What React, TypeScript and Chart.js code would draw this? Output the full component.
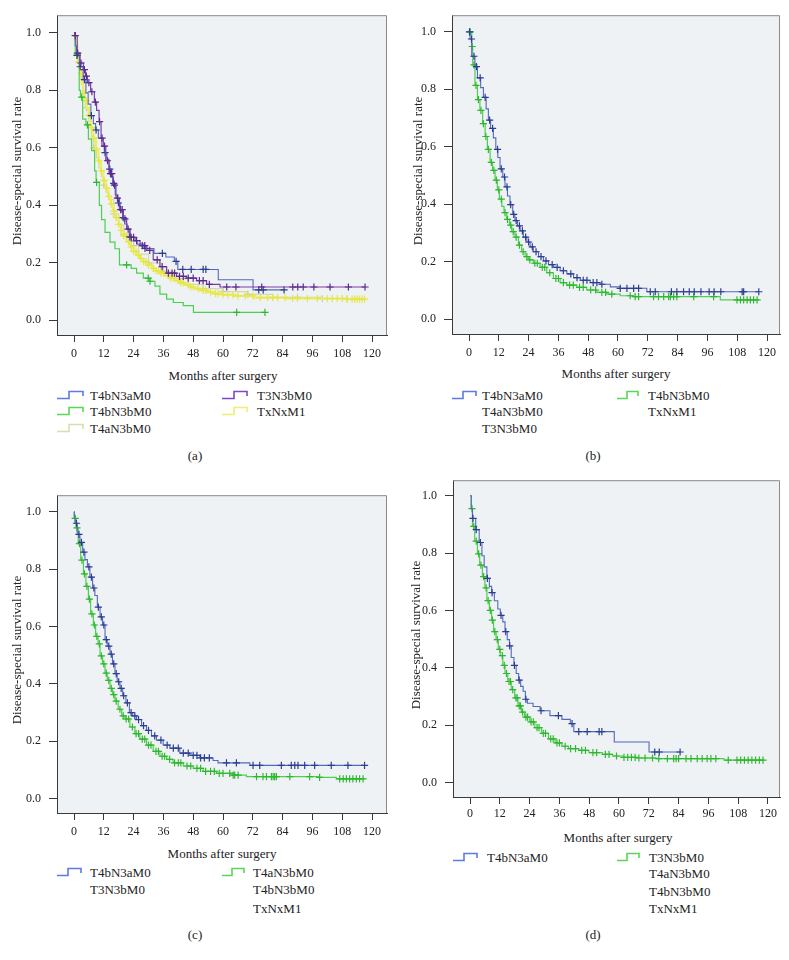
import React, { useEffect, useRef } from "react";
import { Chart, registerables } from "chart.js";
Chart.register(...registerables);

type Pt = [number, number];

const FONT = "'Liberation Serif', 'Times New Roman', serif";
const X_TICKS = [0, 12, 24, 36, 48, 60, 72, 84, 96, 108, 120];
const Y_TICKS = [0, 0.2, 0.4, 0.6, 0.8, 1.0];
const X_TITLE = "Months after surgery";
const Y_TITLE = "Disease-special survival rate";

// ---- single groups (panel a; T4bN3aM0 also panel d) ----
const T4bN3aM0_CURVE: Pt[] = [[0,1],[0.5,0.955],[1.0,0.921],[2.3,0.882],[3.7,0.837],[4.8,0.791],[5.7,0.752],[6.8,0.712],[7.8,0.684],[8.7,0.662],[9.8,0.634],[11.2,0.605],[12.2,0.583],[13.2,0.56],[14.1,0.526],[15.0,0.498],[15.9,0.476],[16.6,0.436],[17.7,0.408],[18.6,0.38],[19.6,0.357],[20.4,0.335],[21.4,0.318],[22.3,0.29],[23.1,0.276],[25.4,0.265],[28.2,0.25],[32.2,0.233],[37.0,0.22],[40.4,0.205],[41.8,0.177],[58.1,0.141],[72.1,0.106],[84.6,0.106]];
const T4bN3aM0_CENSOR = [1.2,2.5,4.2,7.0,8.9,12.5,14.4,16.0,17.9,19.8,22.5,28.6,35.6,41.1,43.8,47.2,52.0,53.1,74.4,76.2,84.6];

const T3N3bM0_CURVE: Pt[] = [[0,1],[0.4,0.99],[1.3,0.929],[2.4,0.895],[3.8,0.872],[4.6,0.849],[5.4,0.827],[6.7,0.795],[8.2,0.759],[9.1,0.73],[10.1,0.691],[10.9,0.634],[11.8,0.606],[12.8,0.555],[14.1,0.51],[15.6,0.47],[16.9,0.425],[18.3,0.385],[19.9,0.353],[21.2,0.317],[22.6,0.289],[24.6,0.277],[26.6,0.26],[29.3,0.243],[31.9,0.21],[34.6,0.187],[37.3,0.164],[41.3,0.153],[45.4,0.147],[49.4,0.138],[53.4,0.125],[58.8,0.116],[117.2,0.116]];
const T3N3bM0_CENSOR = [0.5,1.5,2.8,4.2,5.0,6.0,7.2,8.6,10.3,11.3,12.3,13.5,14.7,15.2,16.3,17.5,18.8,19.4,20.5,21.8,23.0,24.0,25.2,27.5,28.5,30.5,33.5,35.5,38.0,39.5,40.5,42.5,44.0,46.0,48.0,50.5,52.0,54.5,61.5,65.2,75.6,88.1,90.1,92.3,96.6,103.1,110.5,117.2];

const T4bN3bM0_CURVE: Pt[] = [[0,1],[0.5,0.923],[2.1,0.8],[2.6,0.776],[3.5,0.7],[4.8,0.68],[5.8,0.63],[7.1,0.59],[8.3,0.52],[8.9,0.48],[10.2,0.4],[11.1,0.35],[12.5,0.306],[14.5,0.272],[16.5,0.249],[18.3,0.193],[23.0,0.181],[25.2,0.164],[27.9,0.147],[30.6,0.136],[32.6,0.119],[34.6,0.091],[37.3,0.074],[40.0,0.062],[44.0,0.051],[48.1,0.028],[76.9,0.028]];
const T4bN3bM0_CENSOR = [1.3,3.1,5.4,9.1,21.2,29.9,30.6,65.5,76.9];

const TxNxM1_CURVE: Pt[] = [[0,1],[0.3,0.974],[1.0,0.93],[1.7,0.895],[2.4,0.86],[3.1,0.821],[3.7,0.79],[4.4,0.764],[5.1,0.74],[5.8,0.713],[6.8,0.67],[7.8,0.634],[8.8,0.595],[9.8,0.555],[10.8,0.52],[11.8,0.487],[12.8,0.46],[13.8,0.431],[14.8,0.405],[15.8,0.38],[16.8,0.357],[17.9,0.334],[18.9,0.313],[19.9,0.294],[21.2,0.274],[22.6,0.255],[23.9,0.24],[25.2,0.226],[26.5,0.215],[27.9,0.204],[29.6,0.192],[31.3,0.181],[33.0,0.172],[34.6,0.164],[36.6,0.155],[38.7,0.147],[40.7,0.138],[42.7,0.13],[44.7,0.123],[46.7,0.116],[48.7,0.11],[50.7,0.104],[53.4,0.098],[56.1,0.093],[60.0,0.089],[64.2,0.085],[72.2,0.079],[85.6,0.076],[109.8,0.074],[117.2,0.074]];
const TxNxM1_CENSOR = [1,2,3,4,5,6,7,8,9,10,11,12,13,14,15,16,17,18,19,20,21,22,23,24,25,26,27,28,29,30,32,33,34,35,36,38,39,40,42,43,44,46,47,48,50,52,53,55,57,58,60,62,64,66,69,72,75,78,80,82,85,88,90,94,98,102,104,106,108,110,112,113,114,115,116,117];

const T4aN3bM0_CURVE: Pt[] = [[0,1],[0.5,0.96],[1.5,0.9],[2.5,0.84],[3.5,0.79],[4.5,0.74],[6.0,0.68],[7.0,0.64],[8.0,0.6],[9.0,0.565],[10.0,0.53],[11.0,0.5],[12.0,0.47],[13.0,0.445],[14.0,0.42],[16.0,0.37],[18.0,0.33],[20.0,0.3],[23.0,0.26],[26.0,0.23],[30.0,0.2],[35.0,0.17],[40.0,0.145],[46.0,0.125],[52.0,0.11],[60.0,0.1],[70.0,0.09],[80.0,0.08],[100.0,0.075],[117.0,0.075]];
const T4aN3bM0_CENSOR = [2,5,8,12,16,20,24,30,36,44,52,60,70,80,90,100,110];

// ---- panel (b) combined groups ----
const B_BLUE_CURVE: Pt[] = [[0,1],[0.4,0.975],[1.1,0.915],[2.4,0.879],[3.4,0.84],[4.7,0.806],[5.8,0.772],[6.9,0.732],[7.8,0.693],[8.7,0.664],[9.8,0.631],[10.8,0.591],[11.6,0.563],[12.5,0.523],[13.6,0.495],[14.5,0.461],[15.5,0.429],[16.5,0.399],[17.6,0.365],[18.5,0.343],[19.5,0.325],[20.6,0.308],[21.9,0.286],[23.3,0.269],[24.6,0.252],[25.9,0.235],[28.0,0.218],[30.0,0.203],[32.0,0.19],[34.0,0.181],[36.7,0.169],[39.4,0.158],[42.1,0.145],[44.8,0.136],[48.8,0.128],[52.8,0.122],[56.9,0.113],[60.9,0.108],[71.6,0.096],[116.7,0.096]];
const B_BLUE_CENSOR = [0.2,1.0,2.0,3.0,4.5,6.5,8.3,9.5,11.5,13.0,14.3,15.3,16.8,18.0,19.0,20.3,21.5,22.8,24.0,25.5,27.0,29.0,31.0,33.5,35.5,38.0,41.0,43.5,46.0,47.5,50.0,51.5,53.5,60.9,63.6,66.3,68.3,73.0,75.0,81.5,83.7,86.4,88.7,90.7,93.4,96.7,98.7,101.4,110.0,110.6,116.7];
const B_GREEN_CURVE: Pt[] = [[0,1],[1.1,0.949],[1.5,0.885],[2.4,0.814],[3.4,0.764],[4.4,0.727],[5.5,0.681],[6.5,0.636],[7.4,0.591],[8.5,0.546],[9.5,0.518],[10.5,0.484],[11.4,0.45],[12.2,0.418],[13.2,0.393],[14.1,0.371],[15.2,0.348],[16.3,0.328],[17.2,0.305],[18.5,0.286],[19.9,0.258],[21.2,0.235],[22.6,0.218],[23.9,0.207],[25.9,0.195],[28.6,0.181],[31.3,0.162],[34.0,0.142],[36.7,0.128],[39.4,0.119],[43.4,0.111],[47.4,0.102],[51.5,0.094],[55.5,0.088],[60.9,0.082],[66.3,0.079],[101.2,0.068],[116.7,0.068]];
const B_GREEN_CENSOR = [0.5,1.3,2.0,2.8,3.8,4.8,5.8,6.8,7.8,9.0,10.0,11.0,12.0,13.0,14.5,15.5,16.8,17.8,19.0,20.3,21.8,23.3,24.5,26.5,27.5,29.5,30.5,32.5,35.0,36.0,38.0,40.5,42.0,44.5,46.0,49.0,51.0,53.5,55.0,57.5,64.9,66.9,68.3,74.3,76.3,78.4,80.4,81.1,82.4,83.7,90.5,98.5,107.9,109.3,110.6,112.0,113.3,114.6,116.0];

// ---- panel (c) combined groups ----
const C_BLUE_CURVE: Pt[] = [[0,1],[0.1,0.983],[0.4,0.96],[1.3,0.921],[2.4,0.893],[3.5,0.859],[4.4,0.833],[5.4,0.808],[6.4,0.772],[7.5,0.734],[8.4,0.708],[9.4,0.667],[10.5,0.633],[11.5,0.605],[12.5,0.554],[13.4,0.531],[14.5,0.503],[15.5,0.469],[16.5,0.435],[17.4,0.407],[18.5,0.384],[19.6,0.358],[20.9,0.333],[22.3,0.299],[23.6,0.288],[25.2,0.275],[27.2,0.254],[29.2,0.237],[31.2,0.218],[33.2,0.203],[35.9,0.186],[38.6,0.175],[42.6,0.158],[46.6,0.15],[50.7,0.141],[56.0,0.132],[58.0,0.124],[70.8,0.115],[117,0.115]];
const C_BLUE_CENSOR = [1.0,2.0,3.0,4.0,6.0,7.0,8.0,9.8,11.0,12.0,13.0,14.0,15.0,16.0,17.0,18.0,19.0,20.0,21.5,23.0,24.5,26.0,28.0,30.0,32.5,35.0,37.5,40.0,42.0,44.0,46.0,48.0,49.5,51.0,52.5,54.5,61.4,65.4,72.1,74.8,83.5,87.5,88.9,90.2,92.9,96.9,103.6,110.3,117];
const C_GREEN_CURVE: Pt[] = [[0,1],[0.1,0.977],[0.8,0.944],[1.7,0.889],[2.7,0.831],[3.8,0.783],[4.8,0.74],[5.8,0.695],[6.7,0.644],[7.8,0.605],[8.7,0.565],[9.7,0.539],[10.5,0.497],[11.5,0.469],[12.5,0.437],[13.4,0.412],[14.5,0.384],[15.5,0.362],[16.5,0.339],[17.8,0.311],[19.2,0.288],[20.5,0.277],[22.5,0.249],[24.5,0.226],[26.5,0.207],[29.2,0.186],[31.9,0.164],[34.6,0.147],[37.3,0.136],[39.9,0.124],[44.0,0.113],[48.0,0.105],[52.0,0.094],[57.4,0.087],[64.1,0.081],[69.4,0.076],[98.9,0.073],[105.6,0.068],[117,0.068]];
const C_GREEN_CENSOR = [0.5,1.2,2.2,3.2,4.2,5.2,6.2,7.2,8.2,9.2,10.2,11.0,12.0,13.0,14.0,15.0,16.0,17.0,18.5,19.8,21.0,22.0,23.5,25.0,26.0,27.5,28.5,30.0,31.0,33.0,34.0,35.5,36.5,38.5,40.5,42.0,43.0,45.5,47.0,49.5,51.0,53.0,55.0,56.5,58.5,60.0,62.7,64.1,64.7,66.1,73.5,76.1,77.5,79.5,80.2,80.8,81.5,86.9,94.9,98.9,107.0,108.4,109.7,111.0,112.3,113.7,115.0,116.4];

// ---- panel (d) combined group ----
const D_GREEN_CURVE: Pt[] = [[0,1],[0.5,0.955],[1.0,0.893],[1.9,0.842],[3.0,0.797],[3.9,0.758],[5.0,0.718],[6.0,0.679],[6.8,0.634],[7.8,0.6],[8.7,0.566],[9.5,0.526],[10.5,0.498],[11.4,0.464],[12.2,0.442],[13.2,0.408],[14.1,0.38],[15.2,0.352],[16.6,0.324],[18.0,0.295],[19.3,0.267],[20.7,0.245],[22.0,0.228],[24.1,0.211],[26.1,0.191],[28.8,0.171],[31.6,0.152],[34.3,0.138],[37.0,0.126],[39.7,0.118],[43.8,0.112],[47.9,0.104],[53.3,0.098],[57.4,0.092],[61.5,0.087],[67.0,0.085],[75.1,0.083],[102.3,0.078],[118.4,0.078]];
const D_GREEN_CENSOR = [0.8,1.5,2.5,3.5,4.4,5.5,6.5,7.3,8.2,9.0,10.0,11.0,12.0,13.0,13.8,14.7,15.7,16.3,17.2,18.5,19.0,19.8,20.3,21.2,22.5,23.2,24.6,25.5,27.0,27.8,29.5,30.4,32.5,33.5,35.0,36.0,38.3,40.5,42.5,45.0,46.5,49.5,51.0,54.5,56.0,59.0,62.0,63.5,65.0,66.5,68.0,70.5,73.5,76.0,79.5,82.0,83.0,84.0,87.0,89.0,91.5,93.5,95.5,97.0,99.0,104.0,107.5,109.0,110.5,112.0,113.5,115.0,116.5,118.0];

const BLUE = { line: "#5468bd", mark: "#2c3d92", legend: "#5d7be0" };
const GREEN = { line: "#4fcf4f", mark: "#2fb82f", legend: "#58d858" };
const PURPLE = { line: "#7a3ea8", mark: "#5b2a8c", legend: "#7d48c8" };
const YELLOW = { line: "#eeee5e", mark: "#e6e64a", legend: "#eeee70" };
const BEIGE = { line: "#d8d8ac", mark: "#cfcf9c", legend: "#dcdcb2" };

interface Series { curve: Pt[]; censor: number[]; line: string; mark: string; width: number; }
interface Spec { canvas: [number, number, number, number]; box: [number, number, number, number]; tickPad: number; series: Series[]; }

function stepAt(curve: Pt[], t: number) {
  let v = curve[0][1];
  for (const [x, y] of curve) { if (x <= t) v = y; else break; }
  return v;
}

const framePlugin = {
  id: "kmframe",
  beforeDraw(chart: any) {
    const { ctx, chartArea: a } = chart;
    ctx.save();
    ctx.fillStyle = "#eef2f5";
    ctx.fillRect(a.left, a.top, a.right - a.left, a.bottom - a.top);
    ctx.restore();
  },
  afterDraw(chart: any) {
    const { ctx, chartArea: a } = chart;
    ctx.save();
    ctx.strokeStyle = "#8a8a8a";
    ctx.lineWidth = 1;
    ctx.beginPath();
    ctx.moveTo(a.left, a.top + 0.5);
    ctx.lineTo(a.right - 0.5, a.top + 0.5);
    ctx.lineTo(a.right - 0.5, a.bottom);
    ctx.stroke();
    ctx.restore();
  },
};

function KMChart({ spec }: { spec: Spec }) {
  const ref = useRef<HTMLCanvasElement>(null);
  useEffect(() => {
    const [cx, cy, cw, ch] = spec.canvas;
    const [L, T, R, B] = spec.box;
    const yw = L - cx;
    const xh = cy + ch - B;
    const pxPerMonth = 298 / 120;
    const xmin = -17 / pxPerMonth;
    const xmax = xmin + (R - L) / pxPerMonth;
    const pxPerUnit = 294;
    const ymin = -15 / pxPerUnit;
    const ymax = ymin + (B - T) / pxPerUnit;
    const datasets: any[] = [];
    spec.series.forEach((s) => {
      datasets.push({
        data: s.censor.map((t) => ({ x: t, y: stepAt(s.curve, t) })),
        showLine: false,
        pointStyle: "cross",
        pointRadius: 3.6,
        pointHoverRadius: 3.6,
        pointBorderWidth: 1.2,
        pointBorderColor: s.mark,
        borderColor: s.mark,
        backgroundColor: s.mark,
      });
      datasets.push({
        data: s.curve.map(([x, y]) => ({ x, y })),
        showLine: true,
        stepped: "before",
        borderColor: s.line,
        borderWidth: s.width,
        pointRadius: 0,
        pointHoverRadius: 0,
        fill: false,
      });
    });
    const tickFont = { family: FONT, size: 12 };
    const chart = new Chart(ref.current!, {
      type: "scatter",
      data: { datasets },
      options: {
        animation: false,
        responsive: false,
        devicePixelRatio: 1,
        events: [],
        layout: { padding: { left: 0, top: T - cy, right: cx + cw - R, bottom: 0 } },
        plugins: { legend: { display: false }, tooltip: { enabled: false } },
        scales: {
          x: {
            type: "linear",
            min: xmin,
            max: xmax,
            afterBuildTicks: (s: any) => { s.ticks = X_TICKS.map((v) => ({ value: v })); },
            afterFit: (s: any) => { s.height = xh; },
            grid: { display: true, drawOnChartArea: false, drawTicks: true, tickLength: 7, color: "#3a3a3a" },
            border: { display: true, color: "#3a3a3a", width: 1 },
            ticks: { font: tickFont, color: "#222", padding: spec.tickPad, maxRotation: 0, autoSkip: false, callback: (v: any) => String(v) },
          },
          y: {
            type: "linear",
            min: ymin,
            max: ymax,
            afterBuildTicks: (s: any) => { s.ticks = Y_TICKS.map((v) => ({ value: v })); },
            afterFit: (s: any) => { s.width = yw; },
            grid: { display: true, drawOnChartArea: false, drawTicks: true, tickLength: 8, color: "#3a3a3a" },
            border: { display: true, color: "#3a3a3a", width: 1 },
            ticks: { font: tickFont, color: "#222", padding: 8, autoSkip: false, callback: (v: any) => Number(v).toFixed(1) },
          },
        },
      },
      plugins: [framePlugin],
    } as any);
    return () => chart.destroy();
  }, [spec]);
  const [cx, cy, cw, ch] = spec.canvas;
  return <canvas ref={ref} width={cw} height={ch} style={{ position: "absolute", left: cx, top: cy, width: cw, height: ch }} />;
}

function StepIcon({ x1, x2, y, color }: { x1: number; x2: number; y: number; color: string }) {
  const w = x2 - x1;
  const m = Math.round(w * 0.45);
  return (
    <svg width={w} height={10} style={{ position: "absolute", left: x1, top: y - 5 }}>
      <polyline points={`0,8.5 ${m},8.5 ${m},1.5 ${w - 1},1.5 ${w - 1},6`} fill="none" stroke={color} strokeWidth={1.6} />
    </svg>
  );
}

function Text({ x, y, children, center, rotate }: any) {
  return (
    <div style={{ position: "absolute", left: x, top: y, transform: `translate(${center ? "-50%" : "0"}, -50%)${rotate ? " rotate(-90deg)" : ""}`, whiteSpace: "nowrap", fontSize: 13, lineHeight: "15px" }}>
      {children}
    </div>
  );
}

interface LegendCol { sym: [number, number]; textX: number; color: string; labels: string[] }

function Legend({ rows, cols }: { rows: number[]; cols: LegendCol[] }) {
  return (
    <>
      {cols.map((c, ci) => (
        <React.Fragment key={ci}>
          <StepIcon x1={c.sym[0]} x2={c.sym[1]} y={rows[0]} color={c.color} />
          {c.labels.map((l, i) => (
            <Text key={i} x={c.textX} y={rows[i]}>{l}</Text>
          ))}
        </React.Fragment>
      ))}
    </>
  );
}

const SPEC_A: Spec = {
  canvas: [0, 0, 395, 362], box: [57, 8, 387, 335], tickPad: 5,
  series: [
    { curve: T3N3bM0_CURVE, censor: T3N3bM0_CENSOR, line: PURPLE.line, mark: PURPLE.mark, width: 1.2 },
    { curve: T4bN3aM0_CURVE, censor: T4bN3aM0_CENSOR, line: BLUE.line, mark: BLUE.mark, width: 1.1 },
    { curve: T4bN3bM0_CURVE, censor: T4bN3bM0_CENSOR, line: GREEN.line, mark: GREEN.mark, width: 1.2 },
    { curve: TxNxM1_CURVE, censor: TxNxM1_CENSOR, line: YELLOW.line, mark: YELLOW.mark, width: 2.2 },
    { curve: T4aN3bM0_CURVE, censor: T4aN3bM0_CENSOR, line: BEIGE.line, mark: BEIGE.mark, width: 1.2 },
  ],
};
const SPEC_B: Spec = {
  canvas: [400, 0, 389, 362], box: [452, 8, 780, 334], tickPad: 5,
  series: [
    { curve: B_BLUE_CURVE, censor: B_BLUE_CENSOR, line: BLUE.line, mark: BLUE.mark, width: 1.1 },
    { curve: B_GREEN_CURVE, censor: B_GREEN_CENSOR, line: GREEN.line, mark: GREEN.mark, width: 1.2 },
  ],
};
const SPEC_C: Spec = {
  canvas: [0, 480, 395, 362], box: [57, 487, 387, 813], tickPad: 5,
  series: [
    { curve: C_BLUE_CURVE, censor: C_BLUE_CENSOR, line: BLUE.line, mark: BLUE.mark, width: 1.1 },
    { curve: C_GREEN_CURVE, censor: C_GREEN_CENSOR, line: GREEN.line, mark: GREEN.mark, width: 1.2 },
  ],
};
const SPEC_D: Spec = {
  canvas: [400, 465, 389, 362], box: [453, 472, 780, 797], tickPad: 3,
  series: [
    { curve: T4bN3aM0_CURVE, censor: T4bN3aM0_CENSOR, line: BLUE.line, mark: BLUE.mark, width: 1.1 },
    { curve: D_GREEN_CURVE, censor: D_GREEN_CENSOR, line: GREEN.line, mark: GREEN.mark, width: 1.2 },
  ],
};

export default function App() {
  return (
    <div style={{ position: "absolute", left: 0, top: 0, width: 789, height: 960, background: "#fff", fontFamily: FONT, color: "#222", overflow: "hidden" }}>
      <KMChart spec={SPEC_A} />
      <KMChart spec={SPEC_B} />
      <KMChart spec={SPEC_C} />
      <KMChart spec={SPEC_D} />

      <Text x={16} y={171} center rotate>{Y_TITLE}</Text>
      <Text x={417} y={171} center rotate>{Y_TITLE}</Text>
      <Text x={16} y={650} center rotate>{Y_TITLE}</Text>
      <Text x={415} y={635} center rotate>{Y_TITLE}</Text>

      <Text x={223} y={375} center>{X_TITLE}</Text>
      <Text x={616} y={373} center>{X_TITLE}</Text>
      <Text x={222} y={853} center>{X_TITLE}</Text>
      <Text x={618} y={837} center>{X_TITLE}</Text>

      <Legend rows={[395, 411, 428]} cols={[
        { sym: [57, 84], textX: 90, color: BLUE.legend, labels: ["T4bN3aM0"] },
        { sym: [222, 248], textX: 257, color: PURPLE.legend, labels: ["T3N3bM0"] },
      ]} />
      <Legend rows={[411, 428]} cols={[
        { sym: [57, 84], textX: 90, color: GREEN.legend, labels: ["T4bN3bM0"] },
        { sym: [222, 248], textX: 257, color: YELLOW.legend, labels: ["TxNxM1"] },
      ]} />
      <Legend rows={[428]} cols={[
        { sym: [57, 84], textX: 90, color: BEIGE.legend, labels: ["T4aN3bM0"] },
      ]} />

      <Legend rows={[395, 411, 428]} cols={[
        { sym: [452, 477], textX: 482, color: BLUE.legend, labels: ["T4bN3aM0", "T4aN3bM0", "T3N3bM0"] },
        { sym: [617, 639], textX: 648, color: GREEN.legend, labels: ["T4bN3bM0", "TxNxM1"] },
      ]} />

      <Legend rows={[872, 889, 908]} cols={[
        { sym: [57, 82], textX: 90, color: BLUE.legend, labels: ["T4bN3aM0", "T3N3bM0"] },
        { sym: [222, 245], textX: 253, color: GREEN.legend, labels: ["T4aN3bM0", "T4bN3bM0", "TxNxM1"] },
      ]} />

      <Legend rows={[857, 873, 891, 908]} cols={[
        { sym: [453, 478], textX: 487, color: BLUE.legend, labels: ["T4bN3aM0"] },
        { sym: [617, 640], textX: 649, color: GREEN.legend, labels: ["T3N3bM0", "T4aN3bM0", "T4bN3bM0", "TxNxM1"] },
      ]} />

      <Text x={195} y={455} center>(a)</Text>
      <Text x={593} y={455} center>(b)</Text>
      <Text x={195} y={934} center>(c)</Text>
      <Text x={593} y={934} center>(d)</Text>
    </div>
  );
}
